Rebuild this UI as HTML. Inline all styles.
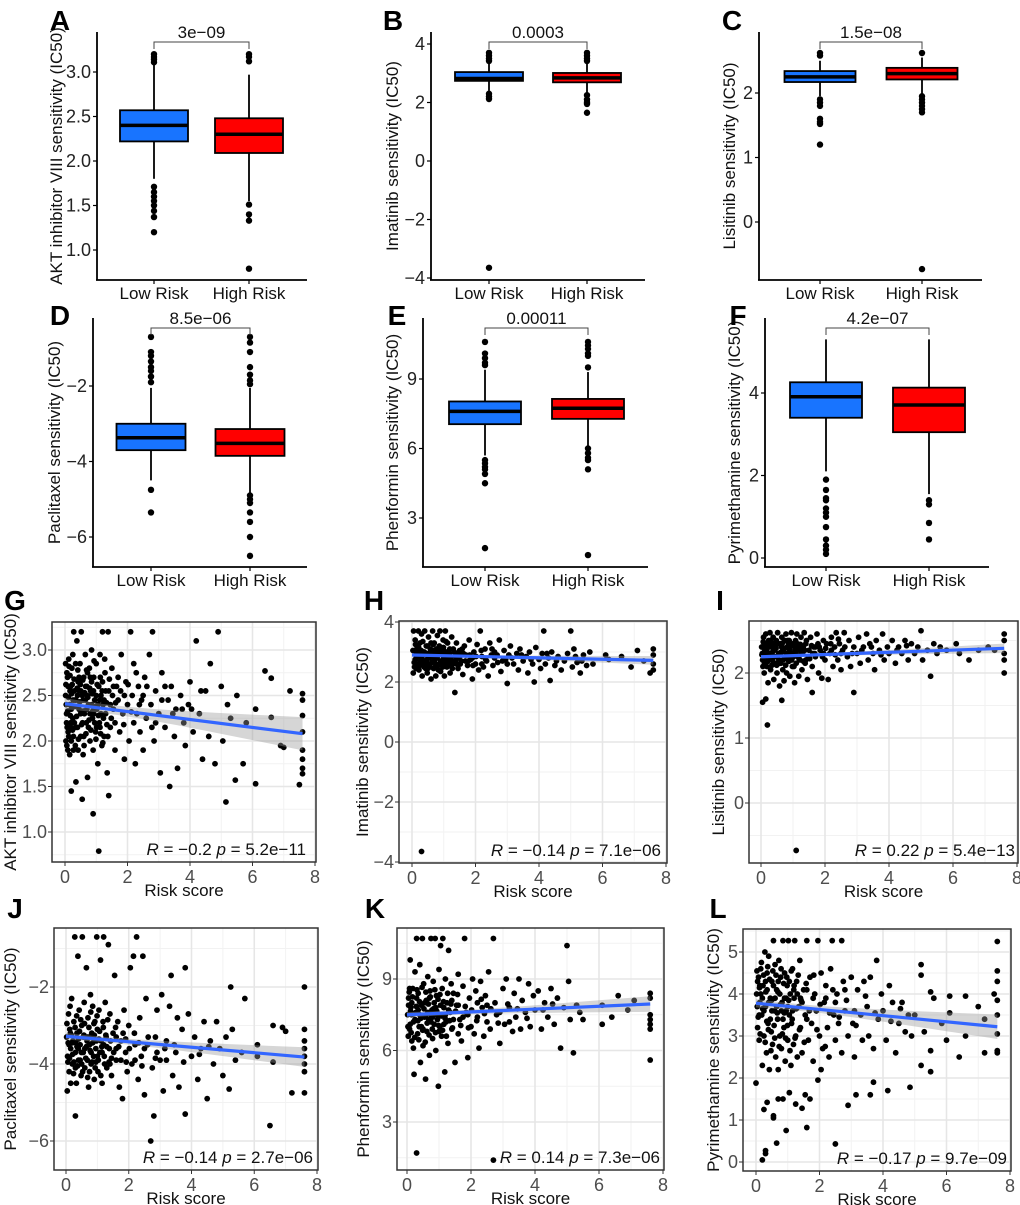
<!DOCTYPE html>
<html><head><meta charset="utf-8">
<style>
html,body{margin:0;padding:0;background:#fff;}
svg{display:block;font-family:"Liberation Sans",Arial,sans-serif;}
</style></head>
<body>
<svg id="fig" width="1020" height="1205" viewBox="0 0 1020 1205" xmlns="http://www.w3.org/2000/svg"></svg>
<script>
// ---------- Box plot data: [q1, median, q3, whiskerLow, whiskerHigh] ----------
const aLowStats=[2.22,2.40,2.57,1.80,3.08]; const aHighStats=[2.09,2.30,2.48,1.55,2.97];
const aLowOut=[3.2,3.17,3.14,3.11,1.71,1.65,1.6,1.55,1.5,1.44,1.37,1.2]; const aHighOut=[3.2,3.17,3.12,1.51,1.4,1.33,0.79];
const aTicks=[1.0,1.5,2.0,2.5,3.0]; const aP="3e\u221209";
const bLowStats=[2.74,2.82,3.04,2.4,3.35]; const bHighStats=[2.69,2.84,3.01,2.3,3.35];
const bLowOut=[3.7,3.6,3.5,3.42,2.3,2.2,2.12,-3.65]; const bHighOut=[3.7,3.6,3.5,3.42,2.25,2.1,2.0,1.95,1.65];
const bTicks=[-4,-2,0,2,4]; const bP="0.0003";
const cLowStats=[2.17,2.25,2.34,1.95,2.5]; const cHighStats=[2.21,2.30,2.39,1.97,2.55];
const cLowOut=[2.62,2.58,1.9,1.85,1.8,1.6,1.55,1.52,1.2]; const cHighOut=[2.62,1.95,1.9,1.85,1.8,1.75,1.7,-0.73];
const cTicks=[0,1,2]; const cP="1.5e\u221208";
const dLowStats=[-3.7,-3.37,-3.0,-4.5,-2.05]; const dHighStats=[-3.85,-3.52,-3.14,-4.85,-2.05];
const dLowOut=[-0.7,-1.1,-1.2,-1.35,-1.5,-1.6,-1.75,-1.9,-4.75,-5.35]; const dHighOut=[-0.7,-0.85,-1.1,-1.5,-1.7,-1.85,-1.95,-4.9,-5.0,-5.1,-5.35,-5.6,-6.0,-6.5];
const dTicks=[-6,-4,-2]; const dP="8.5e\u221206";
const eLowStats=[7.05,7.6,8.03,5.7,9.4]; const eHighStats=[7.28,7.74,8.14,6.1,9.3];
const eLowOut=[10.6,10.1,9.9,9.7,9.6,5.5,5.35,5.2,5.1,4.9,4.5,1.7]; const eHighOut=[10.6,10.45,10.3,10.1,10.0,9.5,6.0,5.8,5.6,5.5,5.1,1.4];
const eTicks=[3,6,9]; const eP="0.00011";
const fLowStats=[3.4,3.91,4.26,2.1,5.3]; const fHighStats=[3.05,3.71,4.13,1.55,5.3];
const fLowOut=[1.9,1.65,1.45,1.4,1.2,1.1,1.0,0.75,0.45,0.3,0.2,0.1]; const fHighOut=[1.4,1.3,0.85,0.45];
const fTicks=[0,2,4]; const fP="4.2e\u221207";
const groupLabels=["Low Risk","High Risk"];

// ---------- Scatter data: [risk score, IC50] ----------
const gPts=[[0.02,2.5],[0.05,2.3],[0.08,2.7],[0.1,2.1],[0.12,2.9],[0.15,2.4],[0.18,2.6],[0.2,2.0],[0.22,2.8],[0.25,2.25],[0.28,3.2],[0.3,2.55],[0.33,1.95],[0.35,2.45],[0.38,3.1],[0.4,2.15],[0.42,2.65],[0.45,2.35],[0.48,2.85],[0.5,2.05],[0.52,3.2],[0.55,2.5],[0.58,1.85],[0.6,2.7],[0.62,2.3],[0.65,2.95],[0.68,2.2],[0.7,2.6],[0.72,1.6],[0.75,2.4],[0.78,2.8],[0.8,2.0],[0.82,2.55],[0.85,3.0],[0.88,2.25],[0.9,1.9],[0.92,2.7],[0.95,2.45],[0.98,2.1],[1.0,2.85],[1.02,2.35],[1.05,1.75],[1.08,2.6],[1.1,2.2],[1.12,2.95],[1.15,2.5],[1.18,1.95],[1.2,3.2],[1.22,2.4],[1.25,2.05],[1.28,2.75],[1.3,2.3],[1.35,1.65],[1.38,3.2],[1.4,2.55],[1.45,2.15],[1.5,2.8],[1.55,2.35],[1.6,1.9],[1.65,2.6],[1.7,2.45],[1.75,2.1],[1.8,2.95],[1.85,2.3],[1.9,1.8],[1.95,2.65],[2.0,2.4],[2.05,2.0],[2.1,3.2],[2.15,2.5],[2.2,2.85],[2.25,1.75],[2.3,2.3],[2.35,2.6],[2.4,2.1],[2.45,2.45],[2.5,1.9],[2.55,2.7],[2.6,2.25],[2.7,2.95],[2.75,2.4],[2.8,3.2],[2.85,2.0],[2.9,2.55],[3.0,2.3],[3.05,1.65],[3.1,2.75],[3.2,2.15],[3.3,2.45],[3.35,1.5],[3.4,2.6],[3.5,2.05],[3.55,2.35],[3.6,1.7],[3.7,2.5],[3.8,2.2],[3.85,1.95],[3.95,2.4],[4.0,2.65],[4.1,2.1],[4.2,3.1],[4.3,2.3],[4.4,1.8],[4.5,2.55],[4.6,2.05],[4.65,2.85],[4.8,1.75],[4.9,3.2],[5.0,2.6],[5.05,2.0],[5.15,1.33],[5.2,2.4],[5.3,2.25],[5.5,2.5],[5.45,1.57],[5.7,1.75],[5.8,2.2],[6.1,1.53],[6.1,2.35],[6.4,2.77],[6.6,2.26],[6.6,2.69],[6.9,1.95],[7.0,1.93],[7.2,2.55],[7.5,1.52],[7.6,2.52],[7.6,2.28],[7.6,2.1],[7.6,1.9],[7.6,1.8],[7.6,1.7],[7.6,1.64],[7.6,2.45],[0.9,1.2],[1.08,0.79],[0.2,1.45],[0.55,1.36],[0.35,1.55],[1.4,1.4],[0.05,2.2],[0.1,2.6],[0.15,1.85],[0.25,2.95],[0.35,2.15],[0.45,2.7],[0.6,2.05],[0.7,2.35],[0.85,2.65],[0.95,2.2],[0.04,2.4],[0.12,2.05],[0.2,2.35],[0.3,2.2],[0.4,2.5],[0.5,2.3],[0.65,2.45],[0.75,2.15],[0.85,2.4],[1.0,2.5],[1.15,2.3],[1.3,2.55],[0.06,2.75],[0.16,2.55],[0.26,2.45],[0.46,2.55],[0.56,2.2],[0.66,2.6],[0.8,2.3],[1.05,2.4],[1.2,2.65],[1.45,2.4],[1.6,2.2],[1.7,2.7],[0.03,2.0],[0.09,1.9],[0.18,2.2],[0.27,2.05],[0.42,1.9],[0.58,2.45],[0.72,2.75],[0.92,2.3],[1.12,2.15],[1.25,2.45],[1.55,2.6],[1.9,2.5],[2.2,2.2],[2.5,2.5],[2.9,2.2],[3.2,2.6],
[0.03,2.62],[0.07,2.15],[0.11,2.48],[0.13,2.82],[0.17,2.28],[0.21,2.52],[0.24,2.12],[0.29,2.68],[0.31,2.38],[0.34,2.85],[0.37,2.27],[0.39,2.58],[0.43,2.02],[0.47,2.43],[0.49,2.62],[0.53,2.18],[0.57,2.67],[0.59,2.33],[0.63,2.53],[0.67,2.08],[0.69,2.78],[0.73,2.48],[0.77,2.23],[0.79,2.58],[0.83,2.12],[0.87,2.52],[0.89,2.33],[0.93,2.88],[0.97,2.38],[0.99,2.02],[1.03,2.62],[1.07,2.28],[1.11,2.45],[1.14,2.08],[1.19,2.55],[1.23,2.25],[1.27,2.9],[1.33,2.42],[1.37,2.05],[1.42,2.68],[1.48,2.25],[1.52,2.5],[0.02,2.85],[0.06,1.95],[0.09,2.33],[0.16,2.72],[0.19,2.15],[0.23,2.62],[0.27,1.9],[0.32,2.45],[0.41,2.78],[0.51,2.55],[0.61,1.95],[0.71,2.5],[0.81,2.7],[0.91,2.55],[1.01,2.15],[1.13,2.7],[1.21,1.98],[1.34,2.18],[1.62,2.42],[1.78,2.55],[1.88,2.18],[2.02,2.62],[2.12,2.32],[2.28,2.75],[2.38,2.4],[2.62,2.6],[2.78,2.15],[3.1,2.45],[3.45,2.3],[3.75,2.35],[4.05,2.35],[4.35,2.55]];
const hPts=[[0.05,3.7],[0.1,3.4],[0.12,2.9],[0.15,3.1],[0.18,2.6],[0.2,3.7],[0.22,2.4],[0.25,3.3],[0.28,2.8],[0.3,3.6],[0.32,2.2],[0.35,3.0],[0.38,2.5],[0.4,3.7],[0.42,2.7],[0.45,3.2],[0.48,2.3],[0.5,2.95],[0.52,3.5],[0.55,2.6],[0.58,3.1],[0.6,2.1],[0.62,2.85],[0.65,3.7],[0.68,2.45],[0.7,3.3],[0.72,2.75],[0.75,2.2],[0.78,3.0],[0.8,3.55],[0.82,2.55],[0.85,2.9],[0.88,3.7],[0.9,2.35],[0.92,3.15],[0.95,2.65],[0.98,3.4],[1.0,2.8],[1.02,2.2],[1.05,3.7],[1.08,3.0],[1.1,2.5],[1.12,3.3],[1.15,2.7],[1.18,2.95],[1.2,2.3],[1.25,3.5],[1.28,2.6],[1.3,3.1],[1.35,1.65],[1.38,2.85],[1.4,3.3],[1.45,2.45],[1.5,3.05],[1.55,2.7],[1.6,2.25],[1.65,3.2],[1.7,2.9],[1.75,2.55],[1.8,3.4],[1.85,2.75],[1.9,2.1],[1.95,3.0],[2.0,2.6],[2.05,3.25],[2.1,2.4],[2.15,3.7],[2.2,2.85],[2.25,2.5],[2.3,3.1],[2.35,2.7],[2.4,2.2],[2.45,3.3],[2.5,2.9],[2.55,2.55],[2.6,3.0],[2.7,2.65],[2.75,3.4],[2.8,2.35],[2.9,3.05],[2.95,2.75],[3.0,1.95],[3.05,2.9],[3.1,3.2],[3.2,2.6],[3.3,2.95],[3.35,2.4],[3.4,3.1],[3.5,2.7],[3.6,2.85],[3.65,2.3],[3.7,3.0],[3.8,2.6],[3.85,2.0],[3.9,3.15],[4.0,2.75],[4.05,2.45],[4.1,2.95],[4.15,3.7],[4.2,2.6],[4.3,2.8],[4.35,2.05],[4.4,3.0],[4.5,2.55],[4.6,2.85],[4.7,2.4],[4.8,2.7],[4.9,2.95],[5.0,3.7],[5.05,2.5],[5.1,3.1],[5.2,2.65],[5.3,2.3],[5.4,2.9],[5.5,2.55],[5.6,3.0],[5.7,2.6],[6.1,2.9],[6.2,2.75],[6.6,2.85],[6.9,2.5],[7.1,3.05],[7.3,2.7],[7.6,3.1],[7.6,2.9],[7.6,2.6],[7.6,2.4],[7.5,2.3],[0.3,-3.65],[0.08,2.5],[0.14,3.0],[0.26,2.7],[0.36,2.9],[0.44,2.55],[0.56,2.8],[0.66,3.05],[0.76,2.6],[0.86,3.2],[0.96,2.9],[1.06,2.6],[1.16,2.85],[1.32,2.65],[1.48,2.8],[1.62,2.95],[1.78,2.7],[0.04,2.3],[0.1,2.75],[0.2,2.95],[0.34,2.6],[0.5,2.45],[0.6,3.3],[0.74,2.9],[0.9,2.7],[1.0,3.05],[1.2,2.75],[1.4,2.6],[1.56,2.9],[1.9,2.8],[2.2,2.6],[2.6,2.8],[3.0,2.6],
[0.03,3.05],[0.07,2.65],[0.11,3.25],[0.13,2.45],[0.17,2.85],[0.21,3.15],[0.24,2.55],[0.29,3.05],[0.31,2.75],[0.34,3.35],[0.37,2.65],[0.39,3.0],[0.43,2.45],[0.47,2.75],[0.49,3.2],[0.53,2.85],[0.57,2.5],[0.59,3.0],[0.63,2.65],[0.67,3.25],[0.69,2.9],[0.73,2.5],[0.77,3.1],[0.79,2.8],[0.83,2.4],[0.87,3.05],[0.89,2.6],[0.93,2.95],[0.97,2.5],[0.99,3.15],[1.03,2.7],[1.07,3.35],[1.11,2.85],[1.14,2.55],[1.19,3.1],[1.23,2.8],[1.27,2.45],[1.33,3.0],[1.37,2.7],[1.42,2.95],[1.52,2.6],[1.58,3.1],[1.68,2.7],[1.82,2.9],[1.92,2.55],[2.02,2.85],[2.18,3.05],[2.32,2.75],[2.52,3.1],[2.68,2.9],[2.85,2.7],[3.15,2.8],[3.45,2.9],[3.75,2.75],[4.25,2.95],[4.55,2.7],[5.15,2.85],[5.35,2.7]];
const iPts=[[0.02,2.4],[0.05,2.2],[0.08,2.55],[0.1,2.0],[0.12,2.35],[0.15,2.6],[0.18,2.1],[0.2,2.45],[0.22,1.85],[0.25,2.3],[0.28,2.62],[0.3,2.05],[0.33,2.4],[0.35,2.2],[0.38,2.55],[0.4,1.9],[0.42,2.35],[0.45,2.15],[0.48,2.5],[0.5,2.0],[0.52,2.62],[0.55,2.3],[0.58,1.8],[0.6,2.45],[0.62,2.15],[0.65,2.55],[0.68,2.05],[0.7,2.35],[0.72,1.88],[0.75,2.25],[0.78,2.6],[0.8,2.0],[0.82,2.4],[0.85,2.2],[0.88,2.5],[0.9,1.95],[0.92,2.3],[0.95,2.62],[0.98,2.1],[1.0,2.45],[1.02,2.25],[1.05,1.85],[1.08,2.5],[1.1,2.15],[1.12,2.6],[1.15,2.35],[1.18,1.95],[1.2,2.4],[1.22,2.2],[1.25,2.55],[1.28,2.05],[1.3,2.3],[1.35,2.62],[1.38,2.15],[1.4,2.45],[1.45,1.9],[1.5,2.35],[1.55,2.55],[1.6,2.1],[1.65,2.4],[1.7,2.25],[1.75,2.6],[1.8,2.0],[1.85,2.35],[1.9,1.92],[1.95,2.5],[2.0,2.2],[2.05,2.45],[2.1,1.9],[2.15,2.3],[2.2,2.55],[2.25,2.1],[2.3,2.4],[2.35,2.62],[2.4,2.2],[2.45,2.45],[2.5,2.05],[2.55,2.35],[2.6,2.62],[2.7,2.25],[2.75,2.5],[2.8,2.1],[2.9,2.4],[3.0,2.3],[3.05,2.55],[3.1,2.15],[3.2,2.4],[3.3,2.6],[3.35,2.2],[3.4,2.45],[3.5,2.3],[3.55,2.05],[3.6,2.5],[3.7,2.35],[3.8,2.6],[3.85,2.2],[3.95,2.4],[4.0,2.3],[4.1,2.5],[4.2,2.15],[4.3,2.4],[4.4,2.3],[4.5,2.5],[4.6,2.2],[4.7,2.45],[4.8,2.3],[4.9,2.4],[5.0,2.65],[5.05,2.2],[5.2,2.35],[5.3,1.95],[5.4,2.45],[5.5,2.3],[5.6,2.4],[5.8,2.35],[6.1,2.45],[6.2,2.3],[6.5,2.2],[6.8,2.35],[7.1,2.4],[7.3,2.35],[7.6,2.6],[7.6,2.5],[7.6,2.3],[7.6,2.2],[7.6,2.0],[0.05,1.55],[0.15,1.6],[0.2,1.2],[0.65,1.58],[1.1,-0.73],[1.6,1.7],[2.9,1.7],[0.04,2.3],[0.1,2.45],[0.14,2.25],[0.24,2.5],[0.32,2.3],[0.44,2.4],[0.56,2.2],[0.64,2.4],[0.74,2.5],[0.84,2.3],[0.96,2.2],[1.06,2.35],[1.16,2.25],[1.32,2.4],[1.48,2.25],[1.62,2.3],[1.78,2.45],[1.96,2.3],[2.2,2.35],[2.5,2.3],[0.06,2.1],[0.18,2.35],[0.3,2.5],[0.46,2.25],[0.6,2.3],[0.86,2.45],[1.0,2.3],[1.24,2.35],[1.4,2.2],[1.7,2.4],
[0.03,2.28],[0.07,2.48],[0.11,2.15],[0.13,2.42],[0.17,2.3],[0.21,2.18],[0.24,2.4],[0.29,2.25],[0.31,2.42],[0.34,2.12],[0.37,2.33],[0.39,2.45],[0.43,2.25],[0.47,2.38],[0.49,2.12],[0.53,2.45],[0.57,2.3],[0.59,2.15],[0.63,2.32],[0.67,2.46],[0.69,2.2],[0.73,2.38],[0.77,2.12],[0.79,2.3],[0.83,2.5],[0.87,2.18],[0.89,2.36],[0.93,2.22],[0.97,2.42],[0.99,2.28],[1.03,2.1],[1.07,2.38],[1.11,2.28],[1.14,2.45],[1.19,2.22],[1.23,2.44],[1.27,2.3],[1.33,2.18],[1.37,2.35],[1.42,2.5],[1.52,2.22],[1.58,2.42],[1.68,2.3],[1.82,2.4],[1.92,2.25],[2.02,2.38],[2.18,2.45],[2.32,2.28],[2.42,2.52],[2.62,2.4],[2.85,2.3],[3.15,2.35],[3.45,2.4],[3.75,2.28],[4.25,2.35],[4.55,2.42]];
const jPts=[[0.02,-3.3],[0.05,-3.8],[0.08,-2.7],[0.1,-4.2],[0.12,-3.1],[0.15,-3.6],[0.18,-2.3],[0.2,-4.0],[0.22,-3.4],[0.25,-2.9],[0.28,-0.7],[0.3,-3.7],[0.33,-4.5],[0.35,-3.2],[0.38,-1.2],[0.4,-3.9],[0.42,-2.6],[0.45,-3.5],[0.48,-4.3],[0.5,-3.0],[0.52,-0.7],[0.55,-3.7],[0.58,-2.4],[0.6,-4.1],[0.62,-3.3],[0.65,-1.5],[0.68,-3.9],[0.7,-2.8],[0.72,-4.6],[0.75,-3.5],[0.78,-2.2],[0.8,-4.0],[0.82,-3.2],[0.85,-2.5],[0.88,-3.8],[0.9,-4.4],[0.92,-2.9],[0.95,-3.6],[0.98,-0.7],[1.0,-3.1],[1.02,-4.2],[1.05,-2.6],[1.08,-3.7],[1.1,-1.3],[1.12,-3.4],[1.15,-4.5],[1.18,-2.9],[1.2,-0.7],[1.22,-3.8],[1.25,-2.4],[1.28,-3.3],[1.3,-4.1],[1.35,-0.9],[1.38,-3.6],[1.4,-2.7],[1.45,-4.3],[1.5,-3.2],[1.55,-1.7],[1.6,-3.9],[1.65,-2.9],[1.7,-4.6],[1.75,-3.4],[1.8,-4.9],[1.85,-2.6],[1.9,-3.7],[1.95,-4.2],[2.0,-3.0],[2.05,-1.5],[2.1,-4.0],[2.15,-1.2],[2.2,-3.5],[2.25,-0.7],[2.3,-4.4],[2.35,-2.8],[2.4,-3.8],[2.45,-1.2],[2.5,-4.8],[2.55,-2.3],[2.6,-3.5],[2.7,-6.0],[2.75,-4.1],[2.8,-5.35],[2.85,-3.3],[2.9,-2.6],[3.0,-3.9],[3.05,-2.2],[3.1,-4.7],[3.2,-3.4],[3.3,-2.5],[3.35,-1.7],[3.4,-4.3],[3.5,-3.7],[3.55,-2.8],[3.6,-4.6],[3.7,-3.1],[3.8,-5.3],[3.8,-1.5],[3.9,-2.7],[4.0,-3.8],[4.1,-3.3],[4.2,-4.4],[4.3,-3.6],[4.4,-2.9],[4.5,-4.9],[4.6,-3.4],[4.7,-4.0],[4.8,-2.9],[4.9,-3.6],[5.0,-4.3],[5.1,-3.3],[5.2,-4.65],[5.25,-2.0],[5.3,-3.1],[5.4,-3.9],[5.6,-3.7],[5.7,-2.3],[6.1,-3.5],[6.1,-3.8],[6.5,-5.6],[6.6,-3.0],[6.6,-3.95],[6.9,-3.05],[7.0,-3.15],[7.2,-4.75],[7.6,-2.0],[7.6,-3.1],[7.6,-3.4],[7.6,-3.6],[7.6,-3.8],[7.6,-4.0],[7.6,-4.2],[7.6,-4.75],[0.3,-5.35],[0.1,-3.5],[0.15,-4.5],[0.25,-3.95],[0.35,-3.55],[0.45,-3.9],[0.55,-3.3],[0.65,-3.55],[0.75,-4.2],[0.85,-3.45],[0.95,-3.95],[1.05,-3.35],[1.15,-3.7],[1.3,-3.55],[1.45,-3.85],[1.6,-3.3],[1.75,-3.9],[0.04,-4.7],[0.06,-3.95],[0.14,-3.2],[0.2,-3.45],[0.3,-4.1],[0.4,-3.35],[0.5,-4.0],[0.6,-3.6],[0.7,-3.3],[0.8,-3.7],[0.9,-3.25],[1.0,-3.8],[1.2,-3.5],[1.4,-4.0],[1.6,-3.6],[1.9,-3.35],[2.2,-3.9],[2.5,-3.6],[2.9,-3.7],[3.2,-3.9],
[0.03,-2.95],[0.07,-3.45],[0.11,-3.85],[0.13,-2.5],[0.17,-3.25],[0.21,-3.75],[0.24,-4.25],[0.29,-3.05],[0.31,-3.45],[0.34,-2.75],[0.37,-4.05],[0.39,-3.6],[0.43,-3.15],[0.47,-2.85],[0.49,-3.7],[0.53,-4.2],[0.57,-3.25],[0.59,-2.95],[0.63,-3.85],[0.67,-3.4],[0.69,-4.35],[0.73,-3.05],[0.77,-3.65],[0.79,-2.65],[0.83,-3.95],[0.87,-3.3],[0.89,-2.95],[0.93,-4.1],[0.97,-3.4],[0.99,-2.75],[1.03,-3.9],[1.07,-3.15],[1.11,-4.3],[1.14,-3.55],[1.19,-3.05],[1.23,-4.0],[1.27,-3.25],[1.33,-2.85],[1.37,-3.95],[1.42,-3.4],[1.52,-3.7],[1.58,-3.05],[1.68,-3.55],[1.82,-3.2],[1.92,-3.95],[2.02,-3.6],[2.18,-3.2],[2.32,-3.45],[2.42,-4.05],[2.62,-3.3],[2.85,-3.85],[3.15,-3.6],[3.45,-3.5],[3.75,-3.95],[4.25,-3.75],[4.55,-3.55]];
const kPts=[[0.02,7.5],[0.05,8.2],[0.08,6.9],[0.1,9.8],[0.12,7.8],[0.15,6.4],[0.18,8.6],[0.2,7.2],[0.22,5.0],[0.25,9.3],[0.28,7.6],[0.3,10.7],[0.33,6.7],[0.35,8.4],[0.38,7.0],[0.4,9.6],[0.42,5.5],[0.45,7.9],[0.48,10.7],[0.5,6.2],[0.52,8.8],[0.55,7.4],[0.58,4.8],[0.6,8.1],[0.62,6.8],[0.65,9.1],[0.68,7.3],[0.7,5.8],[0.72,8.5],[0.75,10.7],[0.78,7.7],[0.8,6.5],[0.82,8.9],[0.85,7.1],[0.88,10.7],[0.9,6.0],[0.92,8.3],[0.95,7.5],[0.98,4.5],[1.0,9.4],[1.02,7.0],[1.05,10.4],[1.08,6.6],[1.1,8.6],[1.12,10.7],[1.15,7.8],[1.18,5.1],[1.2,9.0],[1.22,7.2],[1.25,8.0],[1.28,6.3],[1.3,10.2],[1.35,7.6],[1.38,8.8],[1.4,6.9],[1.45,8.4],[1.5,5.5],[1.55,7.9],[1.6,9.2],[1.65,7.3],[1.7,6.4],[1.75,8.7],[1.8,10.7],[1.85,7.6],[1.9,5.7],[1.95,8.2],[2.0,7.0],[2.05,9.0],[2.1,6.7],[2.15,8.5],[2.2,7.4],[2.25,6.1],[2.3,8.9],[2.35,7.8],[2.4,6.6],[2.45,8.3],[2.5,7.2],[2.55,9.3],[2.6,6.9],[2.7,10.7],[2.7,1.4],[2.75,8.0],[2.8,7.5],[2.9,6.3],[3.0,8.6],[3.05,7.1],[3.1,9.0],[3.2,7.8],[3.3,6.8],[3.35,8.4],[3.4,7.4],[3.5,9.0],[3.55,6.9],[3.6,8.1],[3.7,7.6],[3.8,8.8],[3.85,7.0],[3.95,8.3],[4.0,7.7],[4.1,8.5],[4.2,6.9],[4.3,8.0],[4.4,7.4],[4.5,8.6],[4.6,7.1],[4.7,8.2],[4.8,6.1],[4.9,7.8],[5.0,10.4],[5.05,8.9],[5.1,7.3],[5.2,5.9],[5.3,7.9],[5.4,7.6],[5.5,7.3],[6.1,7.9],[6.1,7.1],[6.4,7.4],[6.6,8.3],[6.9,7.7],[7.1,8.1],[7.6,8.4],[7.6,8.2],[7.6,7.5],[7.6,7.3],[7.6,7.1],[7.6,6.9],[7.6,5.6],[0.3,1.7],[0.05,7.9],[0.1,7.1],[0.15,8.0],[0.25,7.3],[0.35,7.7],[0.45,7.0],[0.55,8.0],[0.65,7.6],[0.75,7.2],[0.85,8.0],[0.95,7.3],[1.05,7.9],[1.15,7.1],[1.3,7.7],[1.45,7.3],[1.6,7.9],[1.75,7.4],[0.04,6.6],[0.08,8.6],[0.14,7.5],[0.2,6.1],[0.3,8.2],[0.4,7.5],[0.5,6.9],[0.6,7.5],[0.7,8.2],[0.8,7.4],[0.9,7.8],[1.0,6.8],[1.2,7.5],[1.4,8.1],[1.6,6.7],[1.9,7.5],[2.2,8.0],[2.5,7.9],[2.9,7.6],[3.2,7.2],
[0.03,7.0],[0.07,8.45],[0.11,7.65],[0.13,6.75],[0.17,8.25],[0.21,7.55],[0.24,6.55],[0.29,7.85],[0.31,8.55],[0.34,7.25],[0.37,6.45],[0.39,8.05],[0.43,7.35],[0.47,8.65],[0.49,6.85],[0.53,7.75],[0.57,6.35],[0.59,8.45],[0.63,7.15],[0.67,7.95],[0.69,6.65],[0.73,8.25],[0.77,7.45],[0.79,6.9],[0.83,7.75],[0.87,8.55],[0.89,6.75],[0.93,7.65],[0.97,8.15],[0.99,7.05],[1.03,8.35],[1.07,7.45],[1.11,6.85],[1.14,8.05],[1.19,7.35],[1.23,6.6],[1.27,8.4],[1.33,7.25],[1.37,7.95],[1.42,6.95],[1.52,7.65],[1.58,8.35],[1.68,7.05],[1.82,7.85],[1.92,6.95],[2.02,7.7],[2.18,7.25],[2.32,8.15],[2.42,7.55],[2.62,7.75],[2.85,7.15],[3.15,7.95],[3.45,7.75],[3.75,7.35],[4.25,7.7],[4.55,7.95]];
const lPts=[[0.02,4.0],[0.05,3.2],[0.08,4.4],[0.1,2.9],[0.12,3.8],[0.15,4.6],[0.18,3.5],[0.2,2.3],[0.22,4.2],[0.25,3.0],[0.28,5.0],[0.3,3.7],[0.33,2.6],[0.35,4.5],[0.38,3.3],[0.4,4.9],[0.42,2.2],[0.45,3.9],[0.48,3.1],[0.5,4.3],[0.52,2.8],[0.55,5.27],[0.58,3.6],[0.6,4.7],[0.62,2.5],[0.65,4.1],[0.68,3.4],[0.7,2.2],[0.72,4.8],[0.75,3.0],[0.78,4.4],[0.8,2.7],[0.82,3.8],[0.85,5.27],[0.88,3.2],[0.9,4.5],[0.92,2.4],[0.95,3.6],[0.98,4.2],[1.0,2.9],[1.02,5.27],[1.05,3.5],[1.08,4.0],[1.1,2.3],[1.12,3.3],[1.15,4.6],[1.18,2.8],[1.2,3.9],[1.22,5.27],[1.25,3.0],[1.28,4.3],[1.3,2.5],[1.35,3.7],[1.38,4.8],[1.4,3.2],[1.45,2.6],[1.5,4.1],[1.55,3.5],[1.6,5.27],[1.65,2.9],[1.7,4.4],[1.75,3.3],[1.8,2.4],[1.85,4.0],[1.9,3.6],[1.95,5.27],[2.0,3.0],[2.05,4.5],[2.1,2.7],[2.15,3.8],[2.2,4.2],[2.25,3.2],[2.3,2.5],[2.35,4.6],[2.4,5.27],[2.45,3.5],[2.5,2.9],[2.55,4.0],[2.6,3.3],[2.7,5.27],[2.7,2.6],[2.75,4.3],[2.8,3.6],[2.9,3.0],[3.0,4.4],[3.05,3.3],[3.1,2.5],[3.2,4.1],[3.3,3.5],[3.35,2.9],[3.4,4.3],[3.5,3.7],[3.55,3.0],[3.6,4.4],[3.7,2.7],[3.8,4.8],[3.85,3.4],[3.95,4.0],[4.0,3.6],[4.1,2.9],[4.2,4.2],[4.3,3.8],[4.4,2.6],[4.5,3.3],[4.6,3.8],[4.7,3.1],[4.8,3.5],[4.9,3.0],[5.0,3.5],[5.2,4.7],[5.2,4.45],[5.2,2.3],[5.3,3.1],[5.5,4.05],[5.5,2.65],[5.5,2.15],[5.6,3.9],[5.85,3.3],[6.0,2.9],[6.1,3.55],[6.1,3.95],[6.4,2.5],[6.6,3.0],[6.6,3.95],[7.0,3.7],[7.2,3.4],[7.2,2.6],[7.5,4.0],[7.6,5.25],[7.6,4.55],[7.6,4.3],[7.6,3.85],[7.6,3.5],[7.6,3.05],[7.6,2.65],[7.6,2.6],[0.0,1.88],[0.2,0.05],[0.3,0.2],[0.3,0.27],[0.25,1.25],[0.35,1.42],[0.55,1.1],[0.55,1.05],[0.65,0.45],[0.7,1.5],[0.85,1.5],[0.95,0.75],[1.05,1.65],[1.25,1.38],[1.45,1.28],[1.55,1.6],[1.6,0.82],[1.7,1.5],[1.95,1.95],[2.05,2.2],[2.5,0.43],[2.9,1.35],[3.15,1.6],[3.6,1.6],[4.15,1.7],[4.85,1.78],[3.7,1.9],[0.05,4.3],[0.1,3.5],[0.15,4.0],[0.25,3.6],[0.35,4.1],[0.45,3.4],[0.55,4.2],[0.65,3.7],[0.75,4.0],[0.85,3.4],[0.95,3.9],[1.05,4.3],[1.15,3.6],[1.3,4.0],[1.45,3.8],[1.6,3.4],[1.8,3.9],[0.04,3.7],[0.12,4.2],[0.2,3.9],[0.3,4.3],[0.4,3.8],[0.5,3.6],[0.6,3.9],[0.7,4.3],[0.8,3.6],[0.9,3.9],[1.0,3.7],[1.2,4.2],[1.4,3.9],[1.6,4.1],[1.9,3.6],[2.2,3.9],[2.5,3.8],[2.8,4.1],[3.1,3.6],
[0.03,4.55],[0.07,3.45],[0.11,4.15],[0.13,3.05],[0.17,4.75],[0.21,3.65],[0.24,4.45],[0.29,2.85],[0.31,4.05],[0.34,3.35],[0.37,4.65],[0.39,3.15],[0.43,4.35],[0.47,2.65],[0.49,3.85],[0.53,4.55],[0.57,3.25],[0.59,2.95],[0.63,4.45],[0.67,3.55],[0.69,4.05],[0.73,2.75],[0.77,3.75],[0.79,4.6],[0.83,3.05],[0.87,4.25],[0.89,3.55],[0.93,2.95],[0.97,4.4],[0.99,3.25],[1.03,3.85],[1.07,2.65],[1.11,4.55],[1.14,3.4],[1.19,4.1],[1.23,2.95],[1.27,3.65],[1.33,4.45],[1.37,3.15],[1.42,3.85],[1.52,2.85],[1.58,4.25],[1.68,3.6],[1.82,4.45],[1.92,3.15],[2.02,3.75],[2.18,2.75],[2.32,3.55],[2.42,4.1],[2.62,3.45],[2.85,3.85],[3.15,3.25],[3.45,3.95],[3.75,3.55],[4.25,3.35],[4.55,3.65]];
const riskTicks=[0,2,4,6,8];
const gFit=[2.41,2.08]; const hFit=[2.9,2.72]; const iFit=[2.25,2.38]; const jFit=[-3.28,-3.82]; const kFit=[7.5,7.95]; const lFit=[3.78,3.22];
const fitRange=[0,7.6];

const NS="http://www.w3.org/2000/svg";
const svg=document.getElementById('fig');
function el(tag,attrs,parent,text){const e=document.createElementNS(NS,tag);for(const k in attrs)e.setAttribute(k,attrs[k]);if(text!==undefined)e.textContent=text;(parent||svg).appendChild(e);return e;}
function lin(v1,p1,v2,p2){return v=>p1+(v-v1)*(p2-p1)/(v2-v1);}
function fmt(v){return String(v).replace('-','\u2212');}

function panelLetter(letter,x,y){
  const t=el('text',{x:x,y:y,'font-size':28,'font-weight':'bold','text-anchor':'middle'},svg,letter);
  
  
}
function yTitle(txt,x,yc,name,g){
  const t=el('text',{x:0,y:0,'font-size':17,'text-anchor':'middle',transform:`translate(${x},${yc}) rotate(-90)`,fill:'#111'},g,txt);
  
  
}

function boxPanel(cfg){
  const g=el('g',{});
  
  
  const Y=lin(cfg.v1,cfg.p1,cfg.v2,cfg.p2);
  const ax=cfg.ax,bot=cfg.bottom;
  const ya=el('line',{x1:ax,y1:cfg.top,x2:ax,y2:bot,stroke:'#000','stroke-width':1.8},g);
  
  const xa=el('line',{x1:ax-1,y1:bot,x2:cfg.right,y2:bot,stroke:'#000','stroke-width':1.8},g);
  
  cfg.ticks.forEach(v=>{
    const y=Y(v);
    el('line',{x1:ax-4,y1:y,x2:ax,y2:y,stroke:'#000','stroke-width':1.2},g);
    const t=el('text',{x:ax-6,y:y+6,'font-size':18,'text-anchor':'end',fill:'#222'},g,cfg.decimals?v.toFixed(1):fmt(v));
    
  });
  yTitle(cfg.title,cfg.titleX,(cfg.top+bot)/2,'y-axis-title',g);
  const groups=[[cfg.lowStats,cfg.lowOut,cfg.cx[0],'#1874FF','low-risk'],[cfg.highStats,cfg.highOut,cfg.cx[1],'#FF0000','high-risk']];
  groups.forEach((gr,i)=>{
    const [st,out,cx,col,nm]=gr;const hw=cfg.bw/2;
    el('line',{x1:cx,y1:bot,x2:cx,y2:bot+4,stroke:'#000','stroke-width':1.2},g);
    const lab=el('text',{x:cx,y:bot+19,'font-size':17,'text-anchor':'middle',fill:'#111'},g,groupLabels[i]);
    
    const w=el('line',{x1:cx,y1:Y(st[3]),x2:cx,y2:Y(st[4]),stroke:'#000','stroke-width':1.8},g);
    
    const r=el('rect',{x:cx-hw,y:Y(st[2]),width:cfg.bw,height:Y(st[0])-Y(st[2]),fill:col,stroke:'#000','stroke-width':1.8},g);
    
    const m=el('line',{x1:cx-hw,y1:Y(st[1]),x2:cx+hw,y2:Y(st[1]),stroke:'#000','stroke-width':3.5},g);
    
    out.forEach(v=>{
      const c=el('circle',{cx:cx,cy:Y(v),r:3.2,fill:'#000'},g);
      
      
    });
  });
  const by=cfg.bracketY;
  const br=el('path',{d:`M${cfg.cx[0]},${by+7}V${by}H${cfg.cx[1]}V${by+7}`,fill:'none',stroke:'#444','stroke-width':1},g);
  
  const pt=el('text',{x:(cfg.cx[0]+cfg.cx[1])/2,y:by-4,'font-size':17,'text-anchor':'middle',fill:'#111'},g,cfg.p);
  
  panelLetter(cfg.letter,cfg.lx,cfg.ly);
}

function scatterPanel(cfg){
  const g=el('g',{});
  
  
  const X=lin(0,cfg.x0,8,cfg.x8);const Y=lin(cfg.v1,cfg.p1,cfg.v2,cfg.p2);
  const L=cfg.left,R=cfg.right,T=cfg.top,B=cfg.bottom;
  const bg=el('rect',{x:L,y:T,width:R-L,height:B-T,fill:'#fff'},g);
  
  const step=cfg.ticks[1]-cfg.ticks[0];
  for(let i=0;i<riskTicks.length-1;i++){const v=(riskTicks[i]+riskTicks[i+1])/2;el('line',{x1:X(v),y1:T,x2:X(v),y2:B,stroke:'#f2f2f2','stroke-width':1},g);}
  for(let v=cfg.ticks[0]-step*1.5;v<=cfg.ticks[cfg.ticks.length-1]+step;v+=step){const y=Y(v);if(y>T&&y<B)el('line',{x1:L,y1:y,x2:R,y2:y,stroke:'#f2f2f2','stroke-width':1},g);}
  riskTicks.forEach(v=>{
    el('line',{x1:X(v),y1:T,x2:X(v),y2:B,stroke:'#e6e6e6','stroke-width':1.6},g);
    el('line',{x1:X(v),y1:B,x2:X(v),y2:B+4,stroke:'#333','stroke-width':1},g);
    const t=el('text',{x:X(v),y:B+21,'font-size':18,'text-anchor':'middle',fill:'#4d4d4d'},g,String(v));
    
  });
  cfg.ticks.forEach(v=>{
    const y=Y(v);
    el('line',{x1:L,y1:y,x2:R,y2:y,stroke:'#e6e6e6','stroke-width':1.6},g);
    el('line',{x1:L-4,y1:y,x2:L,y2:y,stroke:'#333','stroke-width':1},g);
    const t=el('text',{x:L-5,y:y+6,'font-size':18,'text-anchor':'end',fill:'#4d4d4d'},g,cfg.decimals?v.toFixed(1):fmt(v));
    
  });
  cfg.pts.forEach(p=>{
    const c=el('circle',{cx:X(p[0]),cy:Y(p[1]),r:2.9,fill:'#000'},g);
    
    
  });
  const fx=v=>cfg.fit[0]+(cfg.fit[1]-cfg.fit[0])*(v-fitRange[0])/(fitRange[1]-fitRange[0]);
  const up=[],dn=[];
  for(let v=fitRange[0];v<=fitRange[1]+1e-9;v+=0.4){const hw=cfg.se*Math.sqrt(1+Math.pow((v-1.3)/1.8,2));up.push(X(v)+','+Y(fx(v)+hw));dn.unshift(X(v)+','+Y(fx(v)-hw));}
  const band=el('polygon',{points:up.concat(dn).join(' '),fill:'#999','fill-opacity':0.4},g);
  
  const ln=el('line',{x1:X(fitRange[0]),y1:Y(fx(fitRange[0])),x2:X(fitRange[1]),y2:Y(fx(fitRange[1])),stroke:'#3366FF','stroke-width':3.2},g);
  
  const fr=el('rect',{x:L,y:T,width:R-L,height:B-T,fill:'none',stroke:'#333','stroke-width':1.5},g);
  
  const st=el('text',{x:cfg.statX,y:B-7,'font-size':17,'text-anchor':'end',fill:'#111'},g);
  
  el('tspan',{'font-style':'italic'},st,'R');
  el('tspan',{},st,' = '+fmt(cfg.R)+'  ');
  el('tspan',{'font-style':'italic'},st,'p');
  el('tspan',{},st,' = '+cfg.P);
  const xt=el('text',{x:(L+R)/2,y:B+34,'font-size':17,'text-anchor':'middle',fill:'#111'},g,'Risk score');
  
  yTitle(cfg.title,cfg.titleX,(T+B)/2,'y-axis-title',g);
  panelLetter(cfg.letter,cfg.lx,cfg.ly);
}

boxPanel({letter:'A',lx:60,ly:30,ax:97,top:32,bottom:280,right:307,v1:3.0,p1:72,v2:1.0,p2:250,ticks:aTicks,decimals:true,cx:[154,249],bw:68,lowStats:aLowStats,highStats:aHighStats,lowOut:aLowOut,highOut:aHighOut,bracketY:42,p:aP,title:'AKT inhibitor VIII sensitivity (IC50)',titleX:62});
boxPanel({letter:'B',lx:393,ly:30,ax:431,top:32,bottom:280,right:645,v1:4,p1:44,v2:-4,p2:278,ticks:bTicks,cx:[489,587],bw:68,lowStats:bLowStats,highStats:bHighStats,lowOut:bLowOut,highOut:bHighOut,bracketY:42,p:bP,title:'Imatinib sensitivity (IC50)',titleX:398});
boxPanel({letter:'C',lx:732,ly:30,ax:759,top:32,bottom:280,right:982,v1:2,p1:93,v2:0,p2:222,ticks:cTicks,cx:[820,922],bw:71,lowStats:cLowStats,highStats:cHighStats,lowOut:cLowOut,highOut:cHighOut,bracketY:42,p:cP,title:'Lisitinib sensitivity (IC50)',titleX:735});
boxPanel({letter:'D',lx:60,ly:325,ax:93,top:318,bottom:567,right:307,v1:-2,p1:386,v2:-6,p2:537,ticks:dTicks,cx:[151,250],bw:69,lowStats:dLowStats,highStats:dHighStats,lowOut:dLowOut,highOut:dHighOut,bracketY:328,p:dP,title:'Paclitaxel sensitivity (IC50)',titleX:60});
boxPanel({letter:'E',lx:397,ly:325,ax:423,top:318,bottom:567,right:648,v1:9,p1:379,v2:3,p2:518,ticks:eTicks,cx:[485,588],bw:72,lowStats:eLowStats,highStats:eHighStats,lowOut:eLowOut,highOut:eHighOut,bracketY:328,p:eP,title:'Phenformin sensitivity (IC50)',titleX:398});
boxPanel({letter:'F',lx:738,ly:325,ax:765,top:318,bottom:567,right:989,v1:4,p1:393,v2:0,p2:558,ticks:fTicks,cx:[826,929],bw:72,lowStats:fLowStats,highStats:fHighStats,lowOut:fLowOut,highOut:fHighOut,bracketY:328,p:fP,title:'Pyrimethamine sensitivity (IC50)',titleX:740});

scatterPanel({letter:'G',lx:15,ly:610,left:52,right:316,top:622,bottom:862,x0:65,x8:315,v1:3.0,p1:650,v2:1.0,p2:832,ticks:[1.0,1.5,2.0,2.5,3.0],decimals:true,pts:gPts,fit:gFit,se:0.05,R:-0.2,P:'5.2e\u221211',statX:306,title:'AKT inhibitor VIII sensitivity (IC50)',titleX:16});
scatterPanel({letter:'H',lx:374,ly:610,left:399,right:667,top:621,bottom:863,x0:412,x8:666,v1:4,p1:622,v2:-4,p2:862,ticks:[-4,-2,0,2,4],pts:hPts,fit:hFit,se:0.04,R:-0.14,P:'7.1e\u221206',statX:661,title:'Imatinib sensitivity (IC50)',titleX:368});
scatterPanel({letter:'I',lx:720,ly:610,left:749,right:1018,top:621,bottom:863,x0:761,x8:1017,v1:2,p1:673,v2:0,p2:803,ticks:[0,1,2],pts:iPts,fit:iFit,se:0.02,R:0.22,P:'5.4e\u221213',statX:1015,title:'Lisitinib sensitivity (IC50)',titleX:724});
scatterPanel({letter:'J',lx:15,ly:918,left:54,right:318,top:928,bottom:1170,x0:66,x8:317,v1:-2,p1:987,v2:-6,p2:1141,ticks:[-6,-4,-2],pts:jPts,fit:jFit,se:0.07,R:-0.14,P:'2.7e\u221206',statX:313,title:'Paclitaxel sensitivity (IC50)',titleX:16});
scatterPanel({letter:'K',lx:375,ly:918,left:397,right:664,top:928,bottom:1170,x0:407,x8:663,v1:9,p1:979,v2:3,p2:1122,ticks:[3,6,9],pts:kPts,fit:kFit,se:0.09,R:0.14,P:'7.3e\u221206',statX:660,title:'Phenformin sensitivity (IC50)',titleX:369});
scatterPanel({letter:'L',lx:718,ly:918,left:743,right:1011,top:929,bottom:1171,x0:756,x8:1010,v1:5,p1:952,v2:0,p2:1162,ticks:[0,1,2,3,4,5],pts:lPts,fit:lFit,se:0.08,R:-0.17,P:'9.7e\u221209',statX:1007,title:'Pyrimethamine sensitivity (IC50)',titleX:719});
</script>
</body></html>
